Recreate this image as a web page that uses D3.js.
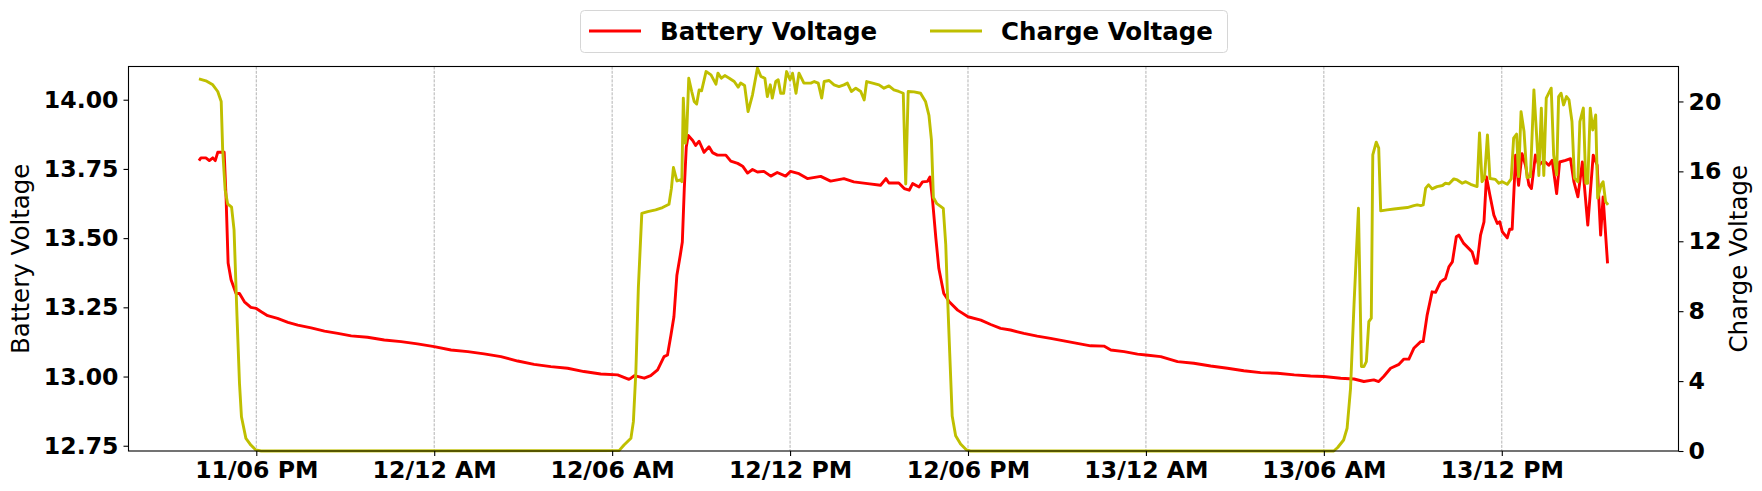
<!DOCTYPE html>
<html lang="en">

<head>
    <meta charset="UTF-8">
    <title>Battery / Charge Voltage</title>
    <style>
        body {
            margin: 0;
            background: #ffffff;
        }

        text {
            font-family: "DejaVu Sans", sans-serif;
        }
    </style>
</head>

<body>
    <div id="chart"></div>
</body>
<script src="https://cdn.jsdelivr.net/npm/d3@7"></script>
<script>
    // readings, "day hh:mm"
    var batteryTimes = [
        "11 16:04", "11 16:08", "11 16:18", "11 16:25", "11 16:32", "11 16:37", "11 16:42", "11 16:49", "11 16:55", "11 16:59",
        "11 17:03", "11 17:09", "11 17:19", "11 17:26", "11 17:36", "11 17:49", "11 18:00", "11 18:10", "11 18:23", "11 18:43",
        "11 19:04", "11 19:24", "11 19:51", "11 20:18", "11 20:45", "11 21:12", "11 21:45", "11 22:19", "11 22:53", "11 23:26",
        "12 00:00", "12 00:34", "12 01:08", "12 01:41", "12 02:15", "12 02:49", "12 03:22", "12 03:56", "12 04:30", "12 05:03",
        "12 05:37", "12 06:11", "12 06:34", "12 06:38", "12 06:45", "12 07:05", "12 07:18", "12 07:32", "12 07:45", "12 07:52",
        "12 07:59", "12 08:05", "12 08:11", "12 08:18", "12 08:22", "12 08:26", "12 08:30", "12 08:34", "12 08:43", "12 08:49",
        "12 08:56", "12 09:06", "12 09:16", "12 09:23", "12 09:33", "12 09:50", "12 10:00", "12 10:14", "12 10:24", "12 10:34",
        "12 10:44", "12 10:54", "12 11:07", "12 11:21", "12 11:34", "12 11:51", "12 12:01", "12 12:18", "12 12:35", "12 13:02",
        "12 13:22", "12 13:49", "12 14:09", "12 14:37", "12 15:03", "12 15:14", "12 15:20", "12 15:40", "12 15:51", "12 16:01",
        "12 16:08", "12 16:21", "12 16:28", "12 16:38", "12 16:43", "12 16:48", "12 16:55", "12 17:01", "12 17:11", "12 17:22",
        "12 17:39", "12 18:00", "12 18:26", "12 18:46", "12 19:06", "12 19:26", "12 19:53", "12 20:20", "12 20:47", "12 21:14",
        "12 21:41", "12 22:08", "12 22:35", "12 22:49", "12 23:16", "12 23:43", "13 00:00", "13 00:30", "13 01:04", "13 01:37",
        "13 02:11", "13 02:45", "13 03:18", "13 03:52", "13 04:26", "13 05:00", "13 05:33", "13 06:00", "13 06:34", "13 07:01",
        "13 07:21", "13 07:41", "13 07:51", "13 08:01", "13 08:15", "13 08:32", "13 08:42", "13 08:52", "13 09:02", "13 09:16",
        "13 09:21", "13 09:29", "13 09:39", "13 09:46", "13 09:56", "13 10:06", "13 10:13", "13 10:20", "13 10:28", "13 10:33",
        "13 10:43", "13 10:53", "13 11:00", "13 11:07", "13 11:10", "13 11:17", "13 11:24", "13 11:29", "13 11:36", "13 11:44",
        "13 11:51", "13 11:56", "13 12:01", "13 12:11", "13 12:16", "13 12:21", "13 12:28", "13 12:34", "13 12:41", "13 12:48",
        "13 12:55", "13 13:00", "13 13:08", "13 13:15", "13 13:22", "13 13:28", "13 13:35", "13 13:42", "13 13:51", "13 13:57",
        "13 14:09", "13 14:19", "13 14:26", "13 14:34", "13 14:43", "13 14:54", "13 15:05", "13 15:13", "13 15:20", "13 15:25",
        "13 15:34"
    ];
    var batteryVolts = [
        13.78, 13.79, 13.79, 13.78, 13.79, 13.78, 13.81, 13.81, 13.81, 13.64,
        13.41, 13.35, 13.30, 13.30, 13.27, 13.25, 13.246, 13.234, 13.22, 13.21,
        13.196, 13.186, 13.176, 13.164, 13.156, 13.147, 13.142, 13.132, 13.126, 13.118,
        13.108, 13.096, 13.09, 13.082, 13.072, 13.056, 13.044, 13.036, 13.03, 13.018,
        13.009, 13.006, 12.99, 12.994, 13.003, 12.994, 13.003, 13.024, 13.072, 13.078,
        13.15, 13.216, 13.366, 13.44, 13.486, 13.68, 13.829, 13.871, 13.853, 13.835,
        13.85, 13.81, 13.83, 13.809, 13.80, 13.80, 13.778, 13.77, 13.76, 13.735,
        13.748, 13.739, 13.741, 13.724, 13.737, 13.724, 13.741, 13.733, 13.715, 13.723,
        13.706, 13.715, 13.703, 13.697, 13.691, 13.715, 13.699, 13.699, 13.679, 13.673,
        13.697, 13.685, 13.703, 13.705, 13.721, 13.643, 13.499, 13.39, 13.30, 13.27,
        13.24, 13.216, 13.204, 13.188, 13.174, 13.168, 13.156, 13.146, 13.138, 13.129,
        13.12, 13.111, 13.11, 13.096, 13.09, 13.081, 13.078, 13.072, 13.054, 13.048,
        13.038, 13.03, 13.021, 13.014, 13.012, 13.006, 13.002, 13.0, 12.994, 12.991,
        12.982, 12.988, 12.982, 13.0, 13.03, 13.044, 13.063, 13.063, 13.102, 13.126,
        13.126, 13.222, 13.306, 13.304, 13.342, 13.354, 13.396, 13.414, 13.505, 13.511,
        13.481, 13.463, 13.45, 13.409, 13.409, 13.511, 13.559, 13.721, 13.655, 13.583,
        13.553, 13.559, 13.523, 13.501, 13.532, 13.532, 13.80, 13.691, 13.805, 13.763,
        13.691, 13.679, 13.80, 13.763, 13.775, 13.775, 13.763, 13.781, 13.661, 13.775,
        13.781, 13.787, 13.703, 13.649, 13.775, 13.547, 13.80, 13.763, 13.511, 13.649,
        13.409
    ];

    var chargeTimes = [
        "11 16:04", "11 16:18", "11 16:32", "11 16:42", "11 16:49", "11 16:52", "11 16:57", "11 17:02", "11 17:10", "11 17:15",
        "11 17:21", "11 17:26", "11 17:30", "11 17:39", "11 17:49", "11 17:59", "11 18:10", "12 06:14", "12 06:24", "12 06:38",
        "12 06:43", "12 06:48", "12 06:53", "12 07:00", "12 07:12", "12 07:28", "12 07:42", "12 07:55", "12 08:00", "12 08:04",
        "12 08:11", "12 08:18", "12 08:21", "12 08:24", "12 08:28", "12 08:31", "12 08:35", "12 08:41", "12 08:46", "12 08:51",
        "12 08:56", "12 09:01", "12 09:10", "12 09:20", "12 09:30", "12 09:34", "12 09:41", "12 09:48", "12 09:57", "12 10:07",
        "12 10:15", "12 10:20", "12 10:28", "12 10:35", "12 10:44", "12 10:54", "12 11:01", "12 11:09", "12 11:14", "12 11:20",
        "12 11:24", "12 11:31", "12 11:36", "12 11:41", "12 11:47", "12 11:53", "12 12:00", "12 12:05", "12 12:12", "12 12:18",
        "12 12:28", "12 12:42", "12 12:49", "12 12:57", "12 13:04", "12 13:09", "12 13:19", "12 13:29", "12 13:39", "12 13:49",
        "12 13:56", "12 14:04", "12 14:13", "12 14:23", "12 14:30", "12 14:35", "12 14:47", "12 15:00", "12 15:10", "12 15:20",
        "12 15:30", "12 15:40", "12 15:49", "12 15:54", "12 15:59", "12 16:11", "12 16:24", "12 16:34", "12 16:41", "12 16:46",
        "12 16:50", "12 16:57", "12 17:10", "12 17:15", "12 17:18", "12 17:23", "12 17:28", "12 17:35", "12 17:45", "12 17:57",
        "12 18:05", "13 06:20", "13 06:28", "13 06:40", "13 06:47", "13 06:54", "13 07:01", "13 07:10", "13 07:16", "13 07:21",
        "13 07:26", "13 07:31", "13 07:36", "13 07:39", "13 07:46", "13 07:51", "13 07:55", "13 08:08", "13 08:22", "13 08:35",
        "13 08:49", "13 09:02", "13 09:09", "13 09:16", "13 09:21", "13 09:26", "13 09:32", "13 09:39", "13 09:49", "13 10:00",
        "13 10:06", "13 10:13", "13 10:23", "13 10:30", "13 10:40", "13 10:47", "13 10:57", "13 11:10", "13 11:15", "13 11:20",
        "13 11:25", "13 11:31", "13 11:36", "13 11:47", "13 11:54", "13 12:01", "13 12:11", "13 12:19", "13 12:24", "13 12:30",
        "13 12:34", "13 12:39", "13 12:45", "13 12:51", "13 12:58", "13 13:05", "13 13:12", "13 13:15", "13 13:20", "13 13:25",
        "13 13:30", "13 13:40", "13 13:45", "13 13:51", "13 13:55", "13 14:00", "13 14:05", "13 14:11", "13 14:16", "13 14:22",
        "13 14:27", "13 14:34", "13 14:38", "13 14:45", "13 14:50", "13 14:54", "13 14:59", "13 15:04", "13 15:10", "13 15:14",
        "13 15:21", "13 15:25", "13 15:30", "13 15:35"
    ];
    var chargeVolts = [
        21.29, 21.18, 20.95, 20.57, 20.0, 17.23, 14.94, 14.14, 13.95, 12.65,
        7.69, 3.88, 1.96, 0.72, 0.34, 0.06, 0, 0.02, 0.34, 0.73,
        1.68, 4.54, 9.31, 13.6, 13.70, 13.80, 13.93, 14.12, 15.04, 16.22,
        15.45, 15.51, 15.41, 20.19, 17.61, 18.28, 21.33, 20.57, 20.0, 19.85,
        20.66, 20.61, 21.71, 21.52, 20.99, 21.62, 21.33, 21.48, 21.33, 21.14,
        20.82, 21.05, 20.91, 19.42, 20.38, 21.91, 21.43, 21.33, 20.28, 20.95,
        20.19, 21.14, 21.24, 20.47, 20.47, 21.71, 21.24, 21.62, 20.47, 21.62,
        21.05, 21.05, 21.14, 21.05, 20.19, 21.14, 21.2, 20.95, 20.85, 20.95,
        21.05, 20.57, 20.76, 20.57, 20.09, 21.14, 21.05, 20.95, 20.76, 20.89,
        20.66, 20.57, 20.47, 15.28, 20.57, 20.55, 20.47, 20.0, 19.2, 17.8,
        14.5, 14.15, 13.88, 11.8, 9.31, 5.6, 2.0, 0.87, 0.4, 0.06,
        0, 0, 0.2, 0.63, 1.3, 3.59, 8.36, 13.89, 4.83, 4.83,
        5.11, 7.40, 7.6, 16.94, 17.67, 17.33, 13.74, 13.8, 13.85, 13.89,
        13.93, 14.04, 14.08, 14.04, 14.08, 15.04, 15.23, 15.0, 15.13, 15.19,
        15.32, 15.28, 15.57, 15.51, 15.32, 15.41, 15.26, 15.13, 18.2, 15.41,
        15.61, 18.09, 15.59, 15.54, 15.32, 15.41, 15.26, 15.57, 17.9, 18.13,
        15.7, 19.42, 18.28, 15.65, 15.7, 20.66, 17.33, 15.76, 19.62, 15.76,
        20.19, 20.76, 16.94, 15.8, 20.28, 20.47, 19.8, 20.28, 20.09, 18.85,
        15.61, 15.41, 18.85, 19.62, 15.32, 15.32, 19.62, 18.37, 19.23, 14.47,
        15.23, 15.41, 14.27, 14.08
    ];

    var batteryTicks = [12.75, 13.00, 13.25, 13.50, 13.75, 14.00];
    var chargeTicks = [0, 4, 8, 12, 16, 20];
    var batteryRange = [12.731, 14.12];
    var chargeRange = [0, 22.0];
    var seriesNames = ["Battery Voltage", "Charge Voltage"];
    var seriesColors = ["#ff0000", "#bfbf00"];

    var W = 1762, H = 491;
    // plot frame (don't use "top" here, it's window.top)
    var plotL = 128.5, plotR = 1678.5, plotT = 66.5, plotB = 451;
    var fontPx = 23.6;
    var lineW = 2.9;

    var parse = d3.timeParse("%d %H:%M");
    var battery = batteryTimes.map(function (t, i) { return { t: parse(t), v: batteryVolts[i] }; });
    var charge = chargeTimes.map(function (t, i) { return { t: parse(t), v: chargeVolts[i] }; });

    // 5% padding on the time extent like the original plot
    var ext = d3.extent(battery.concat(charge), function (d) { return d.t; });
    var pad = (ext[1] - ext[0]) * 0.05;
    var x = d3.scaleTime()
        .domain([new Date(+ext[0] - pad), new Date(+ext[1] + pad)])
        .range([plotL, plotR]);
    var yL = d3.scaleLinear().domain(batteryRange).range([plotB, plotT]);
    var yR = d3.scaleLinear().domain(chargeRange).range([plotB, plotT]);

    var svg = d3.select("#chart").append("svg")
        .attr("width", W)
        .attr("height", H);

    svg.append("rect").attr("width", W).attr("height", H).attr("fill", "#ffffff");

    // six hour ticks starting at 18:00 on the 11th
    var xTicks = d3.timeHour.every(6).range(x.domain()[0], x.domain()[1]);

    // vertical grid
    svg.append("g").selectAll("line")
        .data(xTicks)
        .enter().append("line")
        .attr("x1", function (d) { return x(d); })
        .attr("x2", function (d) { return x(d); })
        .attr("y1", plotT)
        .attr("y2", plotB)
        .attr("stroke", "#a0a0a0")
        .attr("stroke-width", 0.8)
        .attr("stroke-dasharray", "3,1.3");

    var line = function (yScale) {
        return d3.line()
            .x(function (d) { return x(d.t); })
            .y(function (d) { return yScale(d.v); });
    };

    var plot = svg.append("g");
    plot.append("path")
        .datum(battery)
        .attr("d", line(yL))
        .attr("fill", "none")
        .attr("stroke", seriesColors[0])
        .attr("stroke-width", lineW)
        .attr("stroke-linejoin", "round");
    plot.append("path")
        .datum(charge)
        .attr("d", line(yR))
        .attr("fill", "none")
        .attr("stroke", seriesColors[1])
        .attr("stroke-width", lineW)
        .attr("stroke-linejoin", "round");

    // frame
    svg.append("rect")
        .attr("x", plotL)
        .attr("y", plotT)
        .attr("width", plotR - plotL)
        .attr("height", plotB - plotT)
        .attr("fill", "none")
        .attr("stroke", "#000000")
        .attr("stroke-width", 1.1);

    var styleAxis = function (g) {
        g.select(".domain").remove();
        g.selectAll(".tick line").attr("stroke", "#000000").attr("stroke-width", 1.1);
        g.selectAll(".tick text")
            .attr("fill", "#000000")
            .style("font-family", "DejaVu Sans")
            .style("font-weight", "bold")
            .style("font-size", fontPx + "px");
    };

    svg.append("g")
        .attr("transform", "translate(0," + plotB + ")")
        .call(d3.axisBottom(x).tickValues(xTicks).tickFormat(d3.timeFormat("%d/%I %p")).tickSize(5).tickPadding(5))
        .call(styleAxis);

    svg.append("g")
        .attr("transform", "translate(" + plotL + ",0)")
        .call(d3.axisLeft(yL).tickValues(batteryTicks).tickFormat(d3.format(".2f")).tickSize(5).tickPadding(5))
        .call(styleAxis);

    svg.append("g")
        .attr("transform", "translate(" + plotR + ",0)")
        .call(d3.axisRight(yR).tickValues(chargeTicks).tickFormat(d3.format("d")).tickSize(5).tickPadding(5))
        .call(styleAxis);

    svg.append("text")
        .attr("transform", "translate(29," + (plotT + plotB) / 2 + ") rotate(-90)")
        .attr("text-anchor", "middle")
        .style("font-size", "24.5px")
        .text(seriesNames[0]);

    svg.append("text")
        .attr("transform", "translate(1747," + (plotT + plotB) / 2 + ") rotate(-90)")
        .attr("text-anchor", "middle")
        .style("font-size", "24.5px")
        .text(seriesNames[1]);

    // legend
    var legend = svg.append("g");
    legend.append("rect")
        .attr("x", 580.5)
        .attr("y", 10.5)
        .attr("width", 647)
        .attr("height", 42)
        .attr("rx", 4)
        .attr("fill", "#ffffff")
        .attr("fill-opacity", 0.8)
        .attr("stroke", "#d6d6d6")
        .attr("stroke-width", 1);

    var legendX = [589, 930];
    seriesNames.forEach(function (name, i) {
        legend.append("line")
            .attr("x1", legendX[i])
            .attr("x2", legendX[i] + 52)
            .attr("y1", 31)
            .attr("y2", 31)
            .attr("stroke", seriesColors[i])
            .attr("stroke-width", lineW);
        legend.append("text")
            .attr("x", legendX[i] + 71)
            .attr("y", 31)
            .attr("dy", "0.35em")
            .style("font-weight", "bold")
            .style("font-size", "24.5px")
            .text(name);
    });
</script>

</html>
